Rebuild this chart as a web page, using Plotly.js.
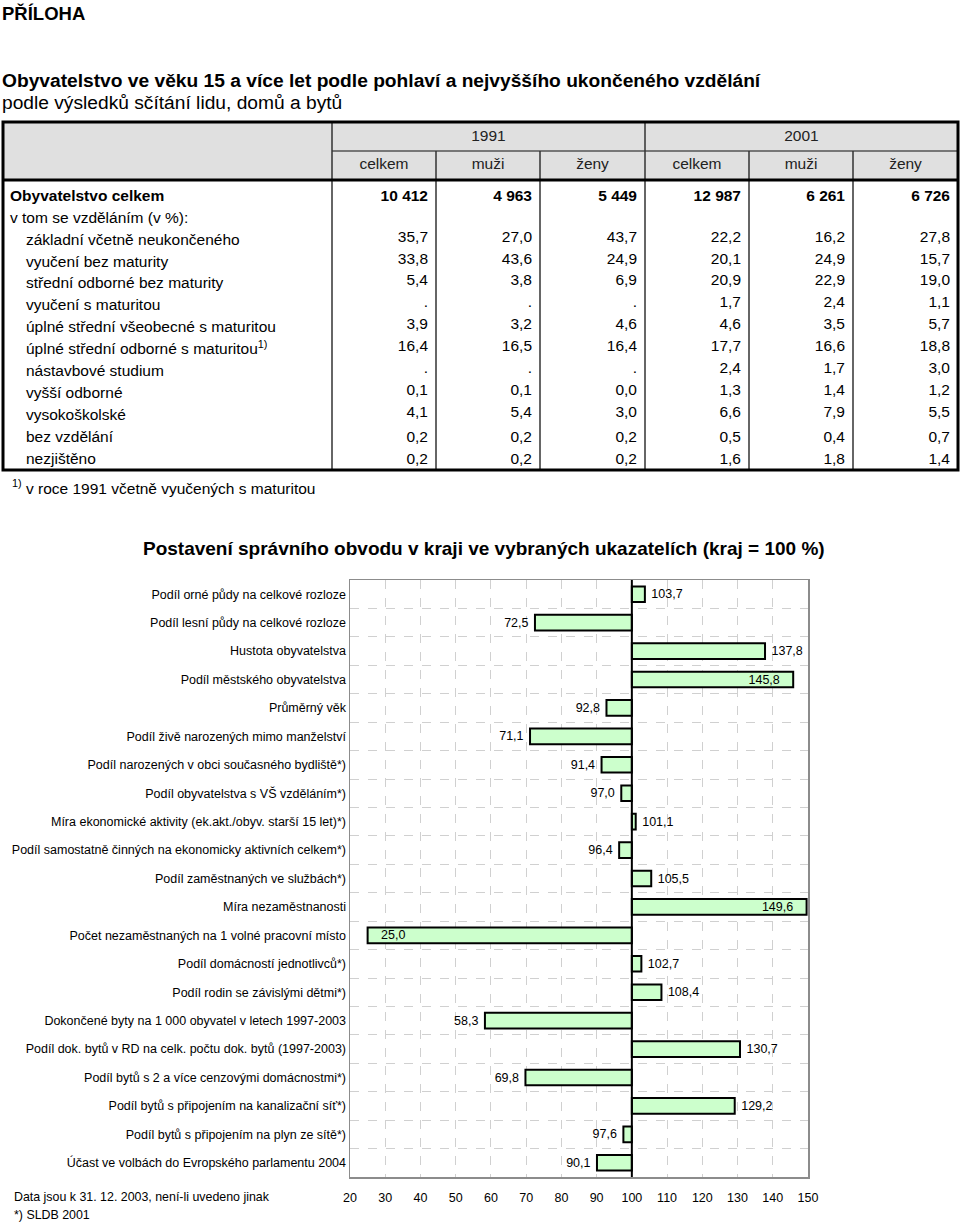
<!DOCTYPE html>
<html>
<head>
<meta charset="utf-8">
<script src="https://cdn.plot.ly/plotly-3.0.1.min.js"></script>
<style>
  body { margin: 0; background: white; }
  #graph { width: 960px; height: 1223px; }
</style>
</head>
<body>
<div id="graph"></div>
<script>
// Tabulka - data
var rowLabels = [
    "Obyvatelstvo celkem",
    "v tom se vzděláním (v %):",
    "základní včetně neukončeného",
    "vyučení bez maturity",
    "střední odborné bez maturity",
    "vyučení s maturitou",
    "úplné střední všeobecné s maturitou",
    "úplné střední odborné s maturitou<sup>1)</sup>",
    "nástavbové studium",
    "vyšší odborné",
    "vysokoškolské",
    "bez vzdělání",
    "nezjištěno"
];
var years = ["1991", "2001"];
var sexes = ["celkem", "muži", "ženy"];
var totals = [10412, 4963, 5449, 12987, 6261, 6726];
// podily v %, null = "."
var c1991celkem = [35.7, 33.8, 5.4, null, 3.9, 16.4, null, 0.1, 4.1, 0.2, 0.2];
var c1991muzi   = [27.0, 43.6, 3.8, null, 3.2, 16.5, null, 0.1, 5.4, 0.2, 0.2];
var c1991zeny   = [43.7, 24.9, 6.9, null, 4.6, 16.4, null, 0.0, 3.0, 0.2, 0.2];
var c2001celkem = [22.2, 20.1, 20.9, 1.7, 4.6, 17.7, 2.4, 1.3, 6.6, 0.5, 1.6];
var c2001muzi   = [16.2, 24.9, 22.9, 2.4, 3.5, 16.6, 1.7, 1.4, 7.9, 0.4, 1.8];
var c2001zeny   = [27.8, 15.7, 19.0, 1.1, 5.7, 18.8, 3.0, 1.2, 5.5, 0.7, 1.4];
var shareCols = [c1991celkem, c1991muzi, c1991zeny, c2001celkem, c2001muzi, c2001zeny];

// Graf - data
var indicators = [
    "Podíl orné půdy na celkové rozloze",
    "Podíl lesní půdy na celkové rozloze",
    "Hustota obyvatelstva",
    "Podíl městského obyvatelstva",
    "Průměrný věk",
    "Podíl živě narozených mimo manželství",
    "Podíl narozených v obci současného bydliště*)",
    "Podíl obyvatelstva s VŠ vzděláním*)",
    "Míra ekonomické aktivity (ek.akt./obyv. starší 15 let)*)",
    "Podíl samostatně činných na ekonomicky aktivních celkem*)",
    "Podíl zaměstnaných ve službách*)",
    "Míra nezaměstnanosti",
    "Počet nezaměstnaných na 1 volné pracovní místo",
    "Podíl domácností jednotlivců*)",
    "Podíl rodin se závislými dětmi*)",
    "Dokončené byty na 1 000 obyvatel v letech 1997-2003",
    "Podíl dok. bytů v RD na celk. počtu dok. bytů (1997-2003)",
    "Podíl bytů s 2 a více cenzovými domácnostmi*)",
    "Podíl bytů s připojením na kanalizační síť*)",
    "Podíl bytů s připojením na plyn ze sítě*)",
    "Účast ve volbách do Evropského parlamentu 2004"
];
var indexValues = [103.7, 72.5, 137.8, 145.8, 92.8, 71.1, 91.4, 97.0, 101.1, 96.4,
    105.5, 149.6, 25.0, 102.7, 108.4, 58.3, 130.7, 69.8, 129.2, 97.6, 90.1];

var W = 960, H = 1223;
var FONT = "Arial, 'Liberation Sans', sans-serif";
var xMin = 20, xMax = 150, krajBase = 100;
var NBSP = "\u00a0";

// pomocne funkce
function fmtDec(v) {
    if (v === null) return ".";
    return v.toFixed(1).replace(".", ",");
}
function fmtThousands(n) {
    return String(n).replace(/\B(?=(\d{3})+(?!\d))/g, " ");
}
function py(px) {
    return 1 - px / H;
}

// Geometrie tabulky (v pixelech stranky)
var tabLeft = 3, tabRight = 958, tabTop = 122, headMid = 151, headBottom = 180, tabBottom = 470;
var labelColRight = 332;
var colRights = [436, 540, 645, 749, 853, 958];
var row0 = 197, rowH = 21.9;

var rowY = [];
for (var i = 0; i < rowLabels.length; i++) {
    rowY.push(row0 + i * rowH);
}

// popisky radku
var labX = [], labText = [];
for (var i = 0; i < rowLabels.length; i++) {
    labX.push(i < 2 ? 10 : 26);
    labText.push(i == 0 ? "<b>" + rowLabels[i] + "</b>" : rowLabels[i]);
}
var traces = [];
traces.push({
    type: 'scatter', mode: 'text', xaxis: 'x2', yaxis: 'y2',
    x: labX, y: rowY, text: labText, textposition: 'middle right',
    textfont: { family: FONT, size: 15.5, color: 'black' },
    marker: { size: 1 }, hoverinfo: 'skip'
});

// hodnoty
for (var c = 0; c < shareCols.length; c++) {
    var xs = [], ys = [], ts = [];
    xs.push(colRights[c] - 8);
    ys.push(rowY[0]);
    ts.push("<b>" + fmtThousands(totals[c]) + "</b>");
    for (var r = 0; r < shareCols[c].length; r++) {
        xs.push(colRights[c] - 8);
        ys.push(rowY[r + 2] - (r < 9 ? 3 : 0));
        ts.push(fmtDec(shareCols[c][r]));
    }
    traces.push({
        type: 'scatter', mode: 'text', xaxis: 'x2', yaxis: 'y2',
        x: xs, y: ys, text: ts, textposition: 'middle left',
        textfont: { family: FONT, size: 15.5, color: 'black' },
        marker: { size: 1 }, hoverinfo: 'skip'
    });
}

// hlavicka
var hx = [], hy = [], ht = [];
for (var k = 0; k < years.length; k++) {
    hx.push((colRights[k * 3 + 2] + (k == 0 ? labelColRight : colRights[2])) / 2);
    hy.push(137);
    ht.push(years[k]);
}
for (var c = 0; c < colRights.length; c++) {
    var left = c == 0 ? labelColRight : colRights[c - 1];
    hx.push((left + colRights[c]) / 2);
    hy.push(165);
    ht.push(sexes[c % 3]);
}
traces.push({
    type: 'scatter', mode: 'text', xaxis: 'x2', yaxis: 'y2',
    x: hx, y: hy, text: ht, textposition: 'middle center',
    textfont: { family: FONT, size: 15.5, color: '#222' },
    marker: { size: 1 }, hoverinfo: 'skip'
});

// Graf - sloupce od zakladny 100
var barText = [], barPos = [];
for (var i = 0; i < indexValues.length; i++) {
    var v = indexValues[i];
    // popisek dovnitr, kdyz by se nevesel do rozsahu osy
    var fits = v >= krajBase ? (v + 9 <= xMax) : (v - 9 >= xMin);
    barPos.push(fits ? 'outside' : 'inside');
    var pad = fits ? NBSP : NBSP + NBSP + NBSP;
    if ((v >= krajBase) == fits) barText.push(pad + fmtDec(v));
    else barText.push(fmtDec(v) + pad);
}
traces.push({
    type: 'bar', orientation: 'h', xaxis: 'x', yaxis: 'y',
    y: indicators,
    x: indexValues.map(function (v) { return v - krajBase; }),
    base: krajBase,
    width: 0.55,
    marker: { color: '#ccffcc', line: { color: 'black', width: 2 } },
    text: barText, textposition: barPos, insidetextanchor: 'end',
    textfont: { family: FONT, size: 12.5, color: 'black' },
    insidetextfont: { family: FONT, size: 12.5, color: 'black' },
    outsidetextfont: { family: FONT, size: 12.5, color: 'black' },
    constraintext: 'none', cliponaxis: false, hoverinfo: 'skip'
});

// Cary tabulky
var shapes = [];
function tline(x0, y0, x1, y1, color, width) {
    shapes.push({ type: 'line', xref: 'x2', yref: 'y2', x0: x0, y0: y0, x1: x1, y1: y1,
        line: { color: color, width: width } });
}
shapes.push({ type: 'rect', xref: 'x2', yref: 'y2', x0: tabLeft, x1: tabRight, y0: tabTop, y1: headBottom,
    fillcolor: '#e0e0e0', line: { width: 0 }, layer: 'below' });
tline(labelColRight, headMid, tabRight, headMid, '#555', 1.5);
tline(labelColRight, tabTop, labelColRight, tabBottom, '#333', 1.5);
tline(colRights[2], tabTop, colRights[2], tabBottom, '#333', 1.5);
for (var c = 0; c < colRights.length - 1; c++) {
    if (c == 2) continue;
    tline(colRights[c], headMid, colRights[c], tabBottom, '#333', 1.5);
}
tline(tabLeft, headBottom, tabRight, headBottom, 'black', 3);
shapes.push({ type: 'rect', xref: 'x2', yref: 'y2', x0: tabLeft, x1: tabRight, y0: tabTop, y1: tabBottom,
    line: { color: 'black', width: 3 } });
// svisla cara kraj = 100
shapes.push({ type: 'line', xref: 'x', yref: 'y domain', x0: krajBase, x1: krajBase, y0: 0, y1: 1,
    line: { color: 'black', width: 2 } });

// Texty
var annotations = [
    { text: "<b>PŘÍLOHA</b>", x: 0, y: py(13), font: { size: 18.5 } },
    { text: "<b>Obyvatelstvo ve věku 15 a více let podle pohlaví a nejvyššího ukončeného vzdělání</b>", x: 0, y: py(80), font: { size: 19.2 } },
    { text: "podle výsledků sčítání lidu, domů a bytů", x: 0, y: py(102), font: { size: 19.2 } },
    { text: "<sup>1)</sup> v roce 1991 včetně vyučených s maturitou", x: 10 / W, y: py(487), font: { size: 15.5 } },
    { text: "<b>Postavení správního obvodu v kraji ve vybraných ukazatelích (kraj = 100 %)</b>", x: 484 / W, y: py(548), xanchor: 'center',
        font: { size: 19 } },
    { text: "Data jsou k 31. 12. 2003, není-li uvedeno jinak", x: 12 / W, y: py(1197), font: { size: 12.4 } },
    { text: "*) SLDB 2001", x: 12 / W, y: py(1215), font: { size: 12.4 } }
];
annotations.forEach(function (a) {
    a.xref = 'paper'; a.yref = 'paper'; a.showarrow = false;
    a.xanchor = a.xanchor || 'left'; a.yanchor = 'middle';
    a.font.family = a.font.family || FONT; a.font.color = 'black';
});

var layout = {
    width: W, height: H,
    margin: { l: 0, r: 0, t: 0, b: 0 },
    paper_bgcolor: 'white', plot_bgcolor: 'rgba(0,0,0,0)',
    showlegend: false,
    font: { family: FONT, size: 12, color: 'black' },
    xaxis: {
        domain: [350 / W, 808 / W], anchor: 'y',
        range: [xMin, xMax], tick0: xMin, dtick: 10,
        showgrid: true, gridcolor: '#d0d0d0', griddash: 'dash', gridwidth: 1,
        zeroline: false, showline: true, mirror: true, linecolor: '#8c8c8c', linewidth: 1.5,
        ticks: '', ticklabelstandoff: 8, tickfont: { size: 12.5, color: 'black' }, fixedrange: true
    },
    yaxis: {
        domain: [py(1177), py(580)], anchor: 'x',
        type: 'category', autorange: 'reversed', tickson: 'boundaries',
        showgrid: true, gridcolor: '#d0d0d0', griddash: 'dash', gridwidth: 1,
        zeroline: false, showline: true, mirror: true, linecolor: '#8c8c8c', linewidth: 1.5,
        ticks: '', tickfont: { size: 12.5, color: 'black' }, fixedrange: true
    },
    xaxis2: { domain: [0, 1], anchor: 'y2', range: [0, W], visible: false, fixedrange: true },
    yaxis2: { domain: [py(500), 1], anchor: 'x2', range: [500, 0], visible: false, fixedrange: true },
    shapes: shapes,
    annotations: annotations,
    bargap: 0.4
};

Plotly.newPlot('graph', traces, layout, { staticPlot: true });
</script>
</body>
</html>
